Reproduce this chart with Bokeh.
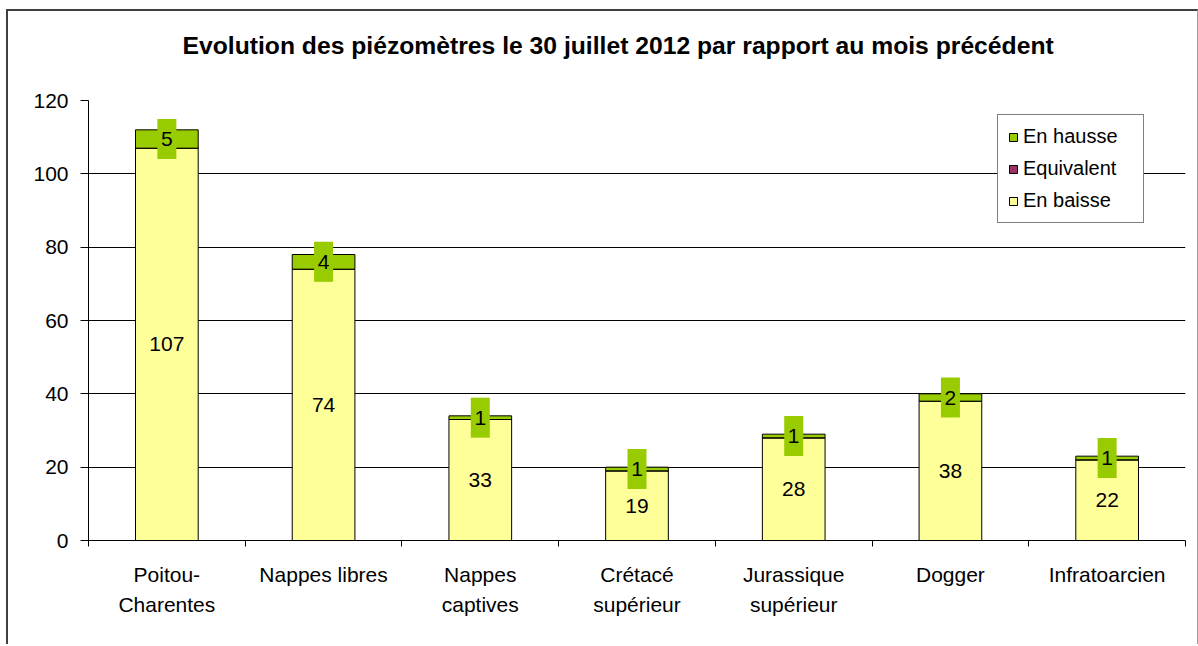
from bokeh.plotting import figure
from bokeh.models import (Range1d, FixedTicker, Legend, LegendItem,
                          ColumnDataSource, Title)
from bokeh.core.properties import value
from bokeh.embed import file_html
from bokeh.resources import INLINE

# ---- data ----
categories = ["Poitou-\nCharentes", "Nappes libres", "Nappes\ncaptives", "Crétacé\nsupérieur",
              "Jurassique\nsupérieur", "Dogger", "Infratoarcien"]
en_baisse = [107, 74, 33, 19, 28, 38, 22]
equivalent = [0, 0, 0, 0, 0, 0, 0]
en_hausse = [5, 4, 1, 1, 1, 2, 1]
y_ticks = [0, 20, 40, 60, 80, 100, 120]
title_text = "Evolution des piézomètres le 30 juillet 2012 par rapport au mois précédent"

FONT = "Liberation Sans"
YELLOW = "#FFFF99"
PURPLE = "#993366"
GREEN = "#99CC00"

n = len(categories)
xs = [i + 0.5 for i in range(n)]

src = ColumnDataSource(dict(
    x=xs,
    baisse=en_baisse,
    equiv=equivalent,
    hausse=en_hausse,
    baisse_mid=[b / 2 for b in en_baisse],
    hausse_mid=[b + e + h / 2 for b, e, h in zip(en_baisse, equivalent, en_hausse)],
    baisse_txt=[str(v) for v in en_baisse],
    hausse_txt=[str(v) for v in en_hausse],
))

p = figure(width=1192, height=635, output_backend="svg", toolbar_location=None,
           x_range=Range1d(0, n), y_range=Range1d(y_ticks[0], y_ticks[-1]),
           min_border_left=80, min_border_right=15, min_border_top=89,
           min_border_bottom=106, background_fill_color="white",
           border_fill_color="white")
p.outline_line_color = None
p.styles = {"border-top": "2px solid #404040", "border-left": "2px solid #404040",
            "border-right": "1px solid #a0a0a0", "margin-left": "6px",
            "margin-top": "9px"}

# spacer between title and plot area (closest to the frame), then the title
spacer = Title(text=" ", text_font_size="1px", standoff=39)
p.add_layout(spacer, "above")
t = Title(text=title_text, align="left", text_font=FONT,
          text_font_size="24.7px", text_font_style="bold", text_color="black",
          standoff=0, offset=94)
p.add_layout(t, "above")

renderers = p.vbar_stack(["baisse", "equiv", "hausse"], x="x", width=0.4, source=src,
                         fill_color=[YELLOW, PURPLE, GREEN], line_color="black",
                         line_width=1)

# data labels
p.text(x="x", y="baisse_mid", text="baisse_txt", source=src, text_font=value(FONT),
       text_font_size="21px", text_align="center", text_baseline="middle",
       text_color="black")
p.rect(x="x", y="hausse_mid", width=19, height=40, width_units="screen",
       height_units="screen", source=src, fill_color=GREEN, line_color=None)
p.text(x="x", y="hausse_mid", text="hausse_txt", source=src, text_font=value(FONT),
       text_font_size="21px", text_align="center", text_baseline="middle",
       text_color="black")

# axes
p.xgrid.visible = False
p.ygrid.grid_line_color = "black"
p.ygrid.grid_line_width = 1
p.ygrid.ticker = FixedTicker(ticks=y_ticks)

p.yaxis.ticker = FixedTicker(ticks=y_ticks)
p.yaxis.major_tick_in = 0
p.yaxis.major_tick_out = 8
p.yaxis.minor_tick_line_color = None
p.yaxis.major_label_standoff = 12
p.yaxis.major_label_text_font = FONT
p.yaxis.major_label_text_font_size = "21px"
p.yaxis.major_label_text_color = "black"
p.yaxis.axis_line_color = "black"
p.yaxis.major_tick_line_color = "black"

p.xaxis.ticker = FixedTicker(ticks=xs, minor_ticks=list(range(n + 1)))
p.xaxis.major_label_overrides = {x: c for x, c in zip(xs, categories)}
p.xaxis.major_tick_line_color = None
p.xaxis.minor_tick_in = 0
p.xaxis.minor_tick_out = 6
p.xaxis.minor_tick_line_color = "black"
p.xaxis.major_label_standoff = 16
p.xaxis.major_label_text_font = FONT
p.xaxis.major_label_text_font_size = "21px"
p.xaxis.major_label_text_line_height = 1.33
p.xaxis.major_label_text_color = "black"
p.xaxis.axis_line_color = "black"

legend = Legend(items=[
    LegendItem(label="En hausse", renderers=[renderers[2]]),
    LegendItem(label="Equivalent", renderers=[renderers[1]]),
    LegendItem(label="En baisse", renderers=[renderers[0]]),
], location=(909, 317))
legend.padding = 10
legend.spacing = 9
legend.label_height = 22
legend.glyph_height = 10
legend.glyph_width = 10
legend.label_standoff = 5
legend.label_width = 110
legend.label_text_font = FONT
legend.label_text_font_size = "20px"
legend.label_text_color = "black"
legend.border_line_color = "black"
legend.border_line_width = 1
legend.background_fill_color = "white"
legend.background_fill_alpha = 1
legend.margin = 0
p.add_layout(legend, "center")

open("out.html", "w").write(file_html(p, INLINE))
